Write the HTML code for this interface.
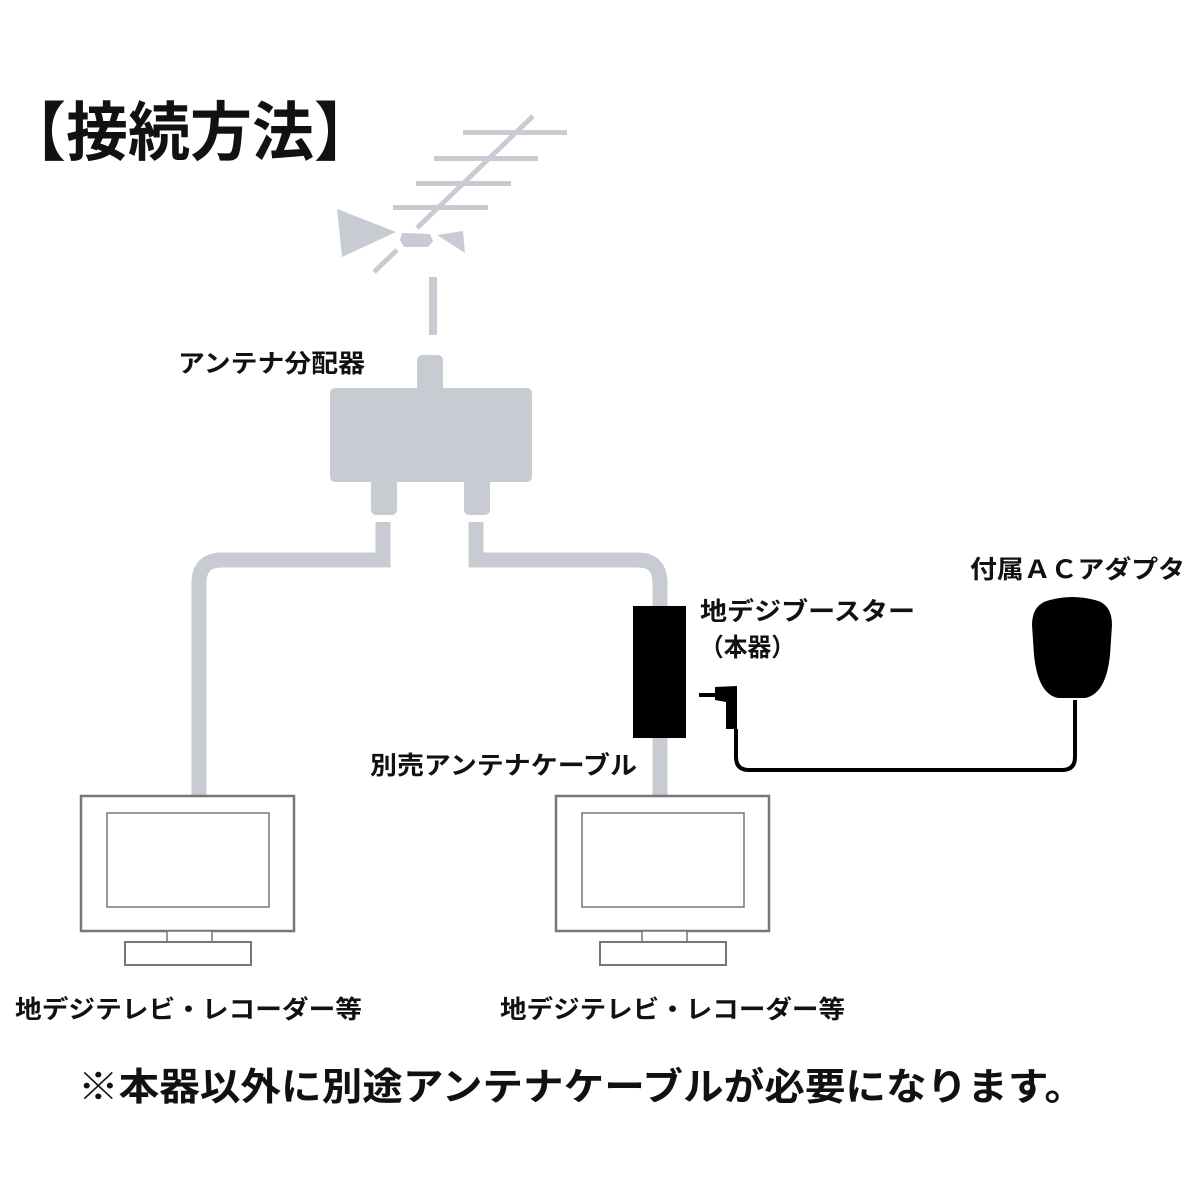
<!DOCTYPE html>
<html><head><meta charset="utf-8"><style>
body{margin:0;background:#fff}
svg{display:block}
text{font-family:"Liberation Sans","Noto Sans CJK JP",sans-serif;font-weight:bold;fill:#111}
</style></head><body>
<svg width="1200" height="1200" viewBox="0 0 1200 1200" xmlns="http://www.w3.org/2000/svg">
<text x="4" y="155" font-size="64" textLength="372" lengthAdjust="spacingAndGlyphs">【接続方法】</text>
<g fill="#c8ccd2" stroke="none">
<line x1="533" y1="116" x2="417" y2="228" stroke="#c8ccd2" stroke-width="5"/>
<line x1="397" y1="250" x2="374" y2="272" stroke="#c8ccd2" stroke-width="5"/>
<rect x="463" y="130" width="104" height="5"/>
<rect x="434" y="156" width="104" height="5"/>
<rect x="416" y="181" width="95" height="5"/>
<rect x="393" y="205" width="95" height="5"/>
<polygon points="337,209 396,232 342,257"/>
<polygon points="402,233 430,234 433,241 428,247 404,247 400,240"/>
<polygon points="437,235 463,231 465,253"/>
<rect x="429" y="277" width="8" height="58"/>
<rect x="417" y="355" width="26" height="40" rx="5"/>
<rect x="330" y="388" width="202" height="94" rx="5"/>
<rect x="371" y="475" width="26" height="40" rx="5"/>
<rect x="464" y="475" width="26" height="40" rx="5"/>
</g>
<g fill="none" stroke="#c8ccd2" stroke-width="15">
<path d="M383 522 V560 H222 Q199 560 199 583 V797"/>
<path d="M476 522 V560 H638 Q660 560 660 583 V797"/>
</g>
<rect x="633" y="606" width="53" height="132" fill="#000"/>
<rect x="699" y="693" width="17" height="4" fill="#000"/>
<polygon points="715,687 737,686 737,729 726,729 726,702 715,700" fill="#000"/>
<path d="M736 729 V757 Q736 770 749 770 H1062 Q1075 770 1075 757 V700" fill="none" stroke="#000" stroke-width="4"/>
<path d="M1050 600 Q1072 594 1095 600 Q1112 604 1112 625 L1110 655 Q1106 694 1085 698 L1058 698 Q1038 694 1034 655 L1032 625 Q1032 604 1050 600 Z" fill="#000"/>
<g fill="#fff" stroke="#777" stroke-width="2.5">
<rect x="81" y="796" width="213" height="135"/>
<rect x="107" y="813" width="162" height="94" stroke-width="1.5"/>
<rect x="167" y="931" width="45" height="11" stroke-width="1.5"/>
<rect x="125" y="942" width="126" height="23" stroke-width="2"/>
<rect x="556" y="796" width="213" height="135"/>
<rect x="582" y="813" width="162" height="94" stroke-width="1.5"/>
<rect x="642" y="931" width="45" height="11" stroke-width="1.5"/>
<rect x="600" y="942" width="126" height="23" stroke-width="2"/>
</g>
<text x="178" y="372" font-size="25" textLength="187" lengthAdjust="spacingAndGlyphs">アンテナ分配器</text>
<text x="700" y="620" font-size="25" textLength="215" lengthAdjust="spacingAndGlyphs">地デジブースター</text>
<text x="700" y="656" font-size="25" textLength="95" lengthAdjust="spacingAndGlyphs">（本器）</text>
<text x="970" y="578" font-size="25" textLength="215" lengthAdjust="spacingAndGlyphs">付属ＡＣアダプタ</text>
<text x="370" y="774" font-size="25" textLength="267" lengthAdjust="spacingAndGlyphs">別売アンテナケーブル</text>
<text x="15" y="1018" font-size="25" textLength="347" lengthAdjust="spacingAndGlyphs">地デジテレビ・レコーダー等</text>
<text x="500" y="1018" font-size="25" textLength="345" lengthAdjust="spacingAndGlyphs">地デジテレビ・レコーダー等</text>
<text x="78" y="1100" font-size="38" textLength="1007" lengthAdjust="spacingAndGlyphs">※本器以外に別途アンテナケーブルが必要になります。</text>
</svg>
</body></html>
